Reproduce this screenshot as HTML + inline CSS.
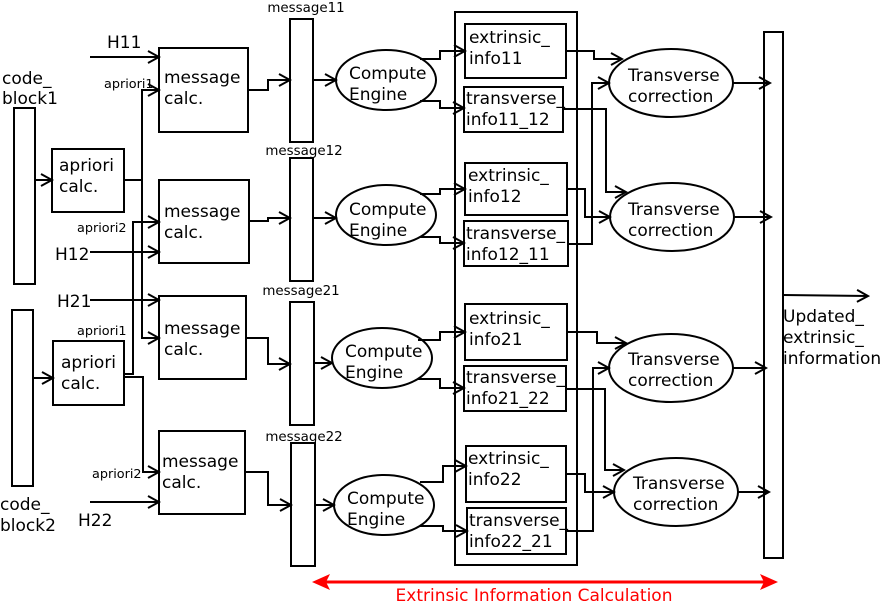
<!DOCTYPE html>
<html><head><meta charset="utf-8"><style>
html,body{margin:0;padding:0;background:#fff;}
svg{display:block;font-family:"DejaVu Sans","Liberation Sans",sans-serif;}
text{fill:#000;}
.t{font-size:17px;}
.s{font-size:13.4px;}
.x{font-size:12.8px;}
</style></head><body>
<svg width="880" height="605" viewBox="0 0 880 605" xmlns="http://www.w3.org/2000/svg">
<defs>
<marker id="a" markerUnits="userSpaceOnUse" markerWidth="14" markerHeight="14" refX="12" refY="7" orient="auto">
<path d="M1,1 L12,7 L1,13" fill="none" stroke="#000" stroke-width="2"/>
</marker>
</defs>
<g fill="none" stroke="#000" stroke-width="2">
<rect x="14" y="108" width="21" height="176"/>
<rect x="12" y="310" width="21" height="176"/>
<rect x="52" y="149" width="72" height="63"/>
<rect x="53" y="341" width="71" height="64"/>
<rect x="159" y="48" width="89" height="84"/>
<rect x="159" y="180" width="90" height="83"/>
<rect x="159" y="296" width="87" height="83"/>
<rect x="159" y="431" width="86" height="83"/>
<rect x="290" y="19" width="23" height="123"/>
<rect x="290" y="158" width="23" height="123"/>
<rect x="290" y="302" width="24" height="123"/>
<rect x="291" y="443" width="24" height="123"/>
<ellipse cx="386" cy="80" rx="50" ry="30"/>
<ellipse cx="386" cy="215" rx="50" ry="30"/>
<ellipse cx="382" cy="358" rx="50" ry="30"/>
<ellipse cx="384" cy="505" rx="50" ry="30"/>
<rect x="455" y="12" width="122" height="553"/>
<rect x="465" y="24" width="101" height="54"/>
<rect x="464" y="87" width="99" height="45"/>
<rect x="465" y="163" width="102" height="52"/>
<rect x="464" y="221" width="104" height="45"/>
<rect x="465" y="304" width="102" height="56"/>
<rect x="464" y="366" width="102" height="45"/>
<rect x="466" y="446" width="100" height="56"/>
<rect x="467" y="508" width="99" height="46"/>
<ellipse cx="671" cy="83" rx="62" ry="34"/>
<ellipse cx="672" cy="217" rx="62" ry="34"/>
<ellipse cx="671" cy="368" rx="62" ry="34"/>
<ellipse cx="676" cy="492" rx="62" ry="34"/>
<rect x="764" y="32" width="19" height="526"/>
</g>
<g fill="none" stroke="#000" stroke-width="2" marker-end="url(#a)">
<path d="M35,180 H52"/>
<path d="M33,378 H53"/>
<path d="M90,57 H159"/>
<path d="M90,252 H159"/>
<path d="M90,300 H159"/>
<path d="M90,502 H159"/>
<path d="M124,180 H142 V90 H159"/>
<path d="M142,180 V338 H159"/>
<path d="M124,374 H133 V222 H159"/>
<path d="M124,377 H143 V472 H159"/>
<path d="M248,90 H268 V80 H290"/>
<path d="M249,221 H268 V218 H290"/>
<path d="M246,338 H268 V364 H290"/>
<path d="M245,472 H268 V505 H291"/>
<path d="M313,80 H336"/>
<path d="M313,218 H336"/>
<path d="M314,363 H332"/>
<path d="M315,505 H334"/>
<path d="M420,59 H440 V51 H465"/>
<path d="M420,101 H440 V108 H464"/>
<path d="M420,194 H440 V189 H465"/>
<path d="M420,237 H440 V243 H464"/>
<path d="M418,340 H440 V332 H465"/>
<path d="M418,379 H440 V388 H464"/>
<path d="M420,482 H443 V466 H466"/>
<path d="M420,526 H443 V531 H467"/>
<path d="M566,51 H594 V59 H622"/>
<path d="M568,244 H592 V83 H609"/>
<path d="M563,109 H606 V192 H626"/>
<path d="M567,189 H585 V217 H610"/>
<path d="M567,332 H597 V343 H626"/>
<path d="M566,531 H593 V368 H609"/>
<path d="M566,389 H605 V470 H624"/>
<path d="M566,474 H585 V492 H614"/>
<path d="M733,83 H770"/>
<path d="M734,217 H771"/>
<path d="M733,368 H766"/>
<path d="M738,492 H769"/>
<path d="M783,295 L868,296"/>
</g>
<line x1="322" y1="582" x2="768" y2="582" stroke="#f00" stroke-width="3"/>
<path d="M312,582 L330,574 L326,582 L330,590 Z" fill="#f00"/>
<path d="M778,582 L760,574 L764,582 L760,590 Z" fill="#f00"/>
<text x="534" y="601" text-anchor="middle" style="font-size:17px;fill:#f00">Extrinsic Information Calculation</text>
<g class="t">
<text x="2" y="84">code_</text><text x="2" y="104">block1</text>
<text x="0" y="510">code_</text><text x="0" y="531">block2</text>
<text x="107" y="48">H11</text>
<text x="55" y="260">H12</text>
<text x="57" y="307">H21</text>
<text x="78" y="526">H22</text>
<text x="59" y="171">apriori</text><text x="59" y="192">calc.</text>
<text x="61" y="368">apriori</text><text x="61" y="389">calc.</text>
<text x="164" y="83">message</text><text x="164" y="104">calc.</text>
<text x="164" y="217">message</text><text x="164" y="238">calc.</text>
<text x="164" y="334">message</text><text x="164" y="355">calc.</text>
<text x="162" y="467">message</text><text x="162" y="488">calc.</text>
<text x="349" y="79">Compute</text><text x="349" y="100">Engine</text>
<text x="349" y="215">Compute</text><text x="349" y="236">Engine</text>
<text x="345" y="357">Compute</text><text x="345" y="378">Engine</text>
<text x="347" y="504">Compute</text><text x="347" y="525">Engine</text>
<text x="469" y="43">extrinsic_</text><text x="469" y="64">info11</text>
<text x="466" y="104">transverse_</text><text x="466" y="125">info11_12</text>
<text x="468" y="181">extrinsic_</text><text x="468" y="202">info12</text>
<text x="466" y="239">transverse_</text><text x="466" y="260">info12_11</text>
<text x="469" y="324">extrinsic_</text><text x="469" y="345">info21</text>
<text x="466" y="383">transverse_</text><text x="466" y="404">info21_22</text>
<text x="468" y="464">extrinsic_</text><text x="468" y="485">info22</text>
<text x="469" y="526">transverse_</text><text x="469" y="547">info22_21</text>
<text x="628" y="81">Transverse</text><text x="628" y="102">correction</text>
<text x="628" y="215">Transverse</text><text x="628" y="236">correction</text>
<text x="628" y="365">Transverse</text><text x="628" y="386">correction</text>
<text x="633" y="489">Transverse</text><text x="633" y="510">correction</text>
<text x="783" y="322">Updated_</text><text x="783" y="343">extrinsic_</text><text x="783" y="364">information</text>
</g>
<g class="s">
<text x="306" y="12" text-anchor="middle">message11</text>
<text x="304" y="155" text-anchor="middle">message12</text>
<text x="301" y="295" text-anchor="middle">message21</text>
<text x="304" y="441" text-anchor="middle">message22</text>
</g>
<g class="x">
<text x="104" y="88">apriori1</text>
<text x="77" y="232">apriori2</text>
<text x="77" y="335">apriori1</text>
<text x="92" y="478">apriori2</text>
</g>
</svg>
</body></html>
